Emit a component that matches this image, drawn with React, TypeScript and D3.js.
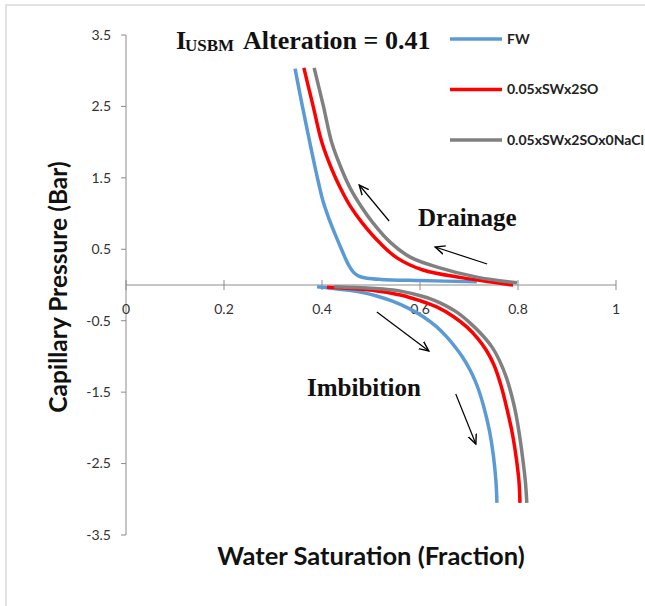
import React from "react";
import * as d3 from "d3";

// Sw (fraction) and Pc (bar)
const fwDrainSw = [0.345, 0.36, 0.375, 0.389, 0.401, 0.413, 0.425, 0.436, 0.446, 0.455, 0.464, 0.475, 0.492, 0.52, 0.6, 0.716];
const fwDrainPc = [3.03, 2.5, 2.0, 1.55, 1.2, 0.95, 0.74, 0.56, 0.4, 0.27, 0.18, 0.125, 0.095, 0.078, 0.062, 0.045];
const swDrainSw = [0.363, 0.382, 0.4, 0.42, 0.438, 0.458, 0.482, 0.518, 0.553, 0.606, 0.688, 0.778, 0.79];
const swDrainPc = [3.04, 2.5, 1.99, 1.62, 1.35, 1.1, 0.87, 0.59, 0.38, 0.21, 0.1, 0.01, 0.0];
const naDrainSw = [0.384, 0.403, 0.42, 0.44, 0.458, 0.48, 0.504, 0.539, 0.58, 0.635, 0.716, 0.798];
const naDrainPc = [3.04, 2.5, 1.99, 1.62, 1.35, 1.1, 0.87, 0.6, 0.39, 0.25, 0.11, 0.03];

const fwImbSw = [0.39, 0.42, 0.45, 0.478, 0.51, 0.545, 0.578, 0.606, 0.633, 0.655, 0.672, 0.686, 0.703, 0.716, 0.73, 0.742, 0.75, 0.755, 0.757];
const fwImbPc = [-0.025, -0.045, -0.07, -0.1, -0.15, -0.23, -0.33, -0.44, -0.58, -0.73, -0.87, -1.0, -1.2, -1.4, -1.7, -2.05, -2.4, -2.75, -3.05];
const swImbSw = [0.41, 0.45, 0.48, 0.52, 0.56, 0.6, 0.635, 0.668, 0.696, 0.718, 0.735, 0.751, 0.765, 0.778, 0.789, 0.797, 0.802, 0.804];
const swImbPc = [-0.03, -0.045, -0.06, -0.09, -0.14, -0.22, -0.31, -0.44, -0.59, -0.75, -0.91, -1.12, -1.4, -1.75, -2.1, -2.45, -2.75, -3.05];
const naImbSw = [0.425, 0.47, 0.51, 0.545, 0.57, 0.595, 0.62, 0.641, 0.675, 0.702, 0.727, 0.747, 0.763, 0.776, 0.786, 0.795, 0.803, 0.81, 0.815, 0.818];
const naImbPc = [-0.025, -0.035, -0.05, -0.07, -0.1, -0.14, -0.19, -0.25, -0.38, -0.53, -0.7, -0.87, -1.07, -1.29, -1.52, -1.78, -2.1, -2.45, -2.75, -3.05];

const seriesNames = ["FW", "0.05xSWx2SO", "0.05xSWx2SOx0NaCl"];
const seriesColors = ["#5B9BD5", "#FF0000", "#808080"];

const xTicks = [0, 0.2, 0.4, 0.6, 0.8, 1];
const yTicks = [3.5, 2.5, 1.5, 0.5, -0.5, -1.5, -2.5, -3.5];

// arrows: [fromSw, fromPc, toSw, toPc]
const arrows = [
  [0.537, 0.896, 0.476, 1.4],
  [0.737, 0.294, 0.631, 0.532],
  [0.512, -0.378, 0.618, -0.924],
  [0.673, -1.527, 0.714, -2.227],
];

const zip = (a: number[], b: number[]) => a.map((v, i) => [v, b[i]] as [number, number]);

const App = () => {
  const W = 645;
  const H = 606;
  const x = d3.scaleLinear().domain([0, 1]).range([126, 616]);
  const y = d3.scaleLinear().domain([-3.5, 3.5]).range([535, 35]);

  const line = d3
    .line<[number, number]>()
    .x((d) => x(d[0]))
    .y((d) => y(d[1]))
    .curve(d3.curveCatmullRom.alpha(0.5));

  const curves = [
    [zip(fwDrainSw, fwDrainPc), zip(fwImbSw, fwImbPc)],
    [zip(swDrainSw, swDrainPc), zip(swImbSw, swImbPc)],
    [zip(naDrainSw, naDrainPc), zip(naImbSw, naImbPc)],
  ];

  const axisColor = "#8C8C8C";
  const sans = "Lato, 'Open Sans', sans-serif";
  const serif = "'Liberation Serif', 'Times New Roman', serif";

  return (
    <svg width={W} height={H} style={{ position: "absolute", left: 0, top: 0, background: "#fff" }}>
      <defs>
        <marker id="ah" viewBox="0 0 10 10" refX="9" refY="5" markerWidth="9" markerHeight="9" orient="auto">
          <path d="M0,1 L9,5 L0,9" fill="none" stroke="#000" strokeWidth="1.3" />
        </marker>
      </defs>
      <rect x={6} y={5} width={700} height={700} fill="#fff" stroke="#D9D9D9" strokeWidth={1.5} />

      {/* y axis */}
      <line x1={x(0)} x2={x(0)} y1={y(3.5)} y2={y(-3.5)} stroke={axisColor} />
      {yTicks.map((t) => (
        <g key={t}>
          <line x1={x(0) - 5} x2={x(0)} y1={y(t)} y2={y(t)} stroke={axisColor} />
          <text x={111} y={y(t)} dy="0.35em" textAnchor="end" fontSize={14} fontFamily={sans} fill="#333">
            {t}
          </text>
        </g>
      ))}

      {/* x axis at Pc = 0 */}
      <line x1={x(0)} x2={x(1)} y1={y(0)} y2={y(0)} stroke={axisColor} />
      {xTicks.map((t) => (
        <g key={t}>
          <line x1={x(t)} x2={x(t)} y1={y(0) - 5} y2={y(0) + 5} stroke={axisColor} />
          <text x={x(t)} y={y(0) + 24} dy="0.35em" textAnchor="middle" fontSize={14} fontFamily={sans} fill="#333">
            {t}
          </text>
        </g>
      ))}

      {curves.map((pair, i) =>
        pair.map((pts, j) => (
          <path key={`${i}-${j}`} d={line(pts) || ""} fill="none" stroke={seriesColors[i]} strokeWidth={3.5} />
        ))
      )}

      {arrows.map((a, i) => (
        <line
          key={i}
          x1={x(a[0])}
          y1={y(a[1])}
          x2={x(a[2])}
          y2={y(a[3])}
          stroke="#000"
          strokeWidth={1.2}
          markerEnd="url(#ah)"
        />
      ))}

      {/* title */}
      <text y={49} fontFamily={serif} fontWeight="bold" fontSize={26} fill="#111">
        <tspan x={176}>I</tspan>
        <tspan x={185} fontSize={17} dy={2}>USBM</tspan>
        <tspan x={243} dy={-2}>Alteration = 0.41</tspan>
      </text>

      <text x={418} y={226} fontFamily={serif} fontWeight="bold" fontSize={25} fill="#111">
        Drainage
      </text>
      <text x={307} y={396} fontFamily={serif} fontWeight="bold" fontSize={25} fill="#111">
        Imbibition
      </text>

      {/* legend */}
      {seriesNames.map((n, i) => (
        <g key={n} transform={`translate(450, ${39 + i * 50.5})`}>
          <line x1={0} x2={52} y1={0} y2={0} stroke={seriesColors[i]} strokeWidth={3.5} />
          <text x={57} y={0} dy="0.35em" fontSize={14} fontWeight="bold" fontFamily={sans} fill="#222">
            {n}
          </text>
        </g>
      ))}

      {/* axis titles */}
      <text
        transform="translate(58, 287) rotate(-90)"
        dy="0.35em"
        textAnchor="middle"
        fontSize={24.5}
        fontWeight="bold"
        fontFamily={sans}
        fill="#111"
      >
        Capillary Pressure (Bar)
      </text>
      <text x={371} y={565} textAnchor="middle" fontSize={25.5} fontWeight="bold" fontFamily={sans} fill="#111">
        Water Saturation (Fraction)
      </text>
    </svg>
  );
};

export default App;
